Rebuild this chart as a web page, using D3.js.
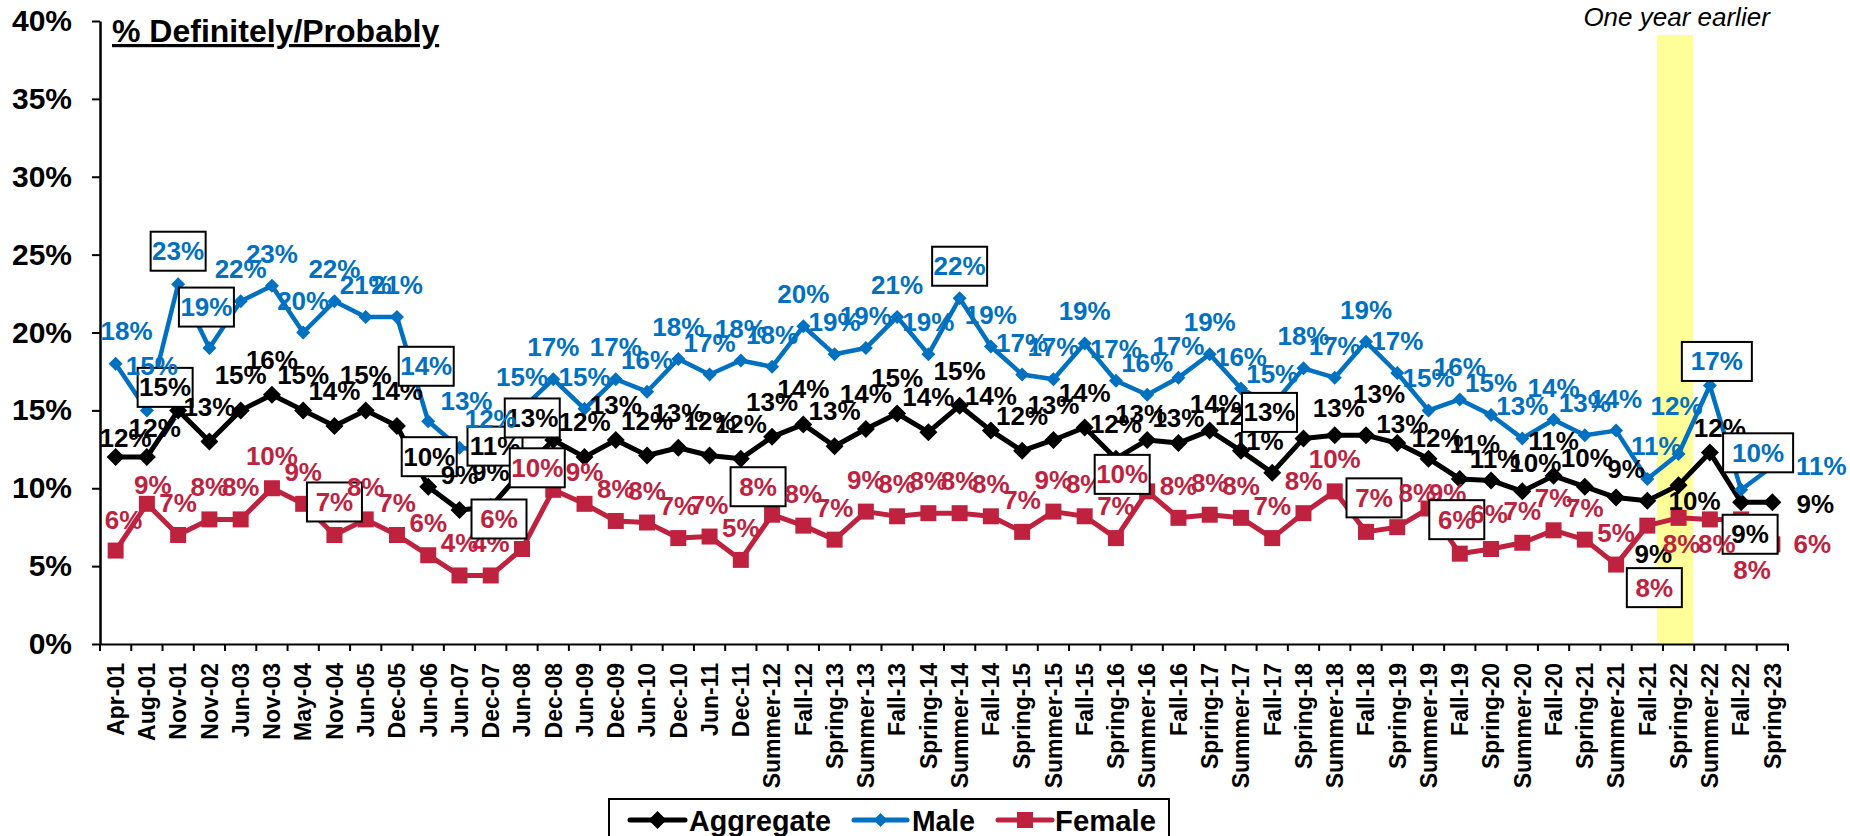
<!DOCTYPE html>
<html>
<head>
<meta charset="utf-8">
<script src="https://cdn.jsdelivr.net/npm/d3@7"></script>
<style>
  html, body { margin: 0; padding: 0; background: #fff; }
  svg { display: block; }
  text { font-family: "Liberation Sans", Arial, Helvetica, sans-serif; }
</style>
</head>
<body>
<svg id="chart" width="1850" height="836"></svg>
<script>
// ---------------- DATA ----------------
const categories = ["Apr-01","Aug-01","Nov-01","Nov-02","Jun-03","Nov-03","May-04","Nov-04","Jun-05","Dec-05",
  "Jun-06","Jun-07","Dec-07","Jun-08","Dec-08","Jun-09","Dec-09","Jun-10","Dec-10","Jun-11",
  "Dec-11","Summer-12","Fall-12","Spring-13","Summer-13","Fall-13","Spring-14","Summer-14","Fall-14","Spring-15",
  "Summer-15","Fall-15","Spring-16","Summer-16","Fall-16","Spring-17","Summer-17","Fall-17","Spring-18","Summer-18",
  "Fall-18","Spring-19","Summer-19","Fall-19","Spring-20","Summer-20","Fall-20","Spring-21","Summer-21","Fall-21",
  "Spring-22","Summer-22","Fall-22","Spring-23"];

const aggregate = [12.0, 12.0, 15.0, 13.0, 15.0, 16.0, 15.0, 14.0, 15.0, 14.0,
  10.1, 8.6, 8.8, 11.1, 13.1, 12.0, 13.1, 12.1, 12.6, 12.1,
  11.9, 13.3, 14.1, 12.7, 13.8, 14.8, 13.6, 15.3, 13.7, 12.4,
  13.1, 13.9, 11.9, 13.1, 12.9, 13.7, 12.4, 11.0, 13.2, 13.4,
  13.4, 12.9, 11.9, 10.6, 10.5, 9.8, 10.8, 10.1, 9.4, 9.2,
  10.2, 12.3, 9.1, 9.1];

const male = [18.0, 15.0, 23.1, 19.0, 22.0, 23.0, 20.0, 22.0, 21.0, 21.0,
  14.3, 12.6, 12.4, 15.1, 17.0, 15.1, 17.0, 16.2, 18.3, 17.3,
  18.2, 17.8, 20.4, 18.6, 19.0, 21.0, 18.6, 22.2, 19.1, 17.3,
  17.0, 19.3, 16.9, 16.0, 17.1, 18.6, 16.4, 15.3, 17.7, 17.1,
  19.4, 17.4, 15.0, 15.7, 14.7, 13.2, 14.4, 13.4, 13.7, 10.6,
  12.2, 16.6, 9.9, 11.4];

const female = [6.0, 9.0, 7.0, 8.0, 8.0, 10.0, 9.0, 7.0, 8.0, 7.0,
  5.7, 4.4, 4.4, 6.1, 9.9, 9.0, 7.9, 7.8, 6.8, 6.9,
  5.4, 8.3, 7.6, 6.7, 8.5, 8.2, 8.4, 8.4, 8.2, 7.2,
  8.5, 8.2, 6.8, 9.8, 8.1, 8.3, 8.1, 6.8, 8.4, 9.8,
  7.2, 7.5, 8.7, 5.8, 6.1, 6.5, 7.3, 6.7, 5.1, 7.6,
  8.1, 8.0, 8.0, 6.4];

const seriesNames = ["Aggregate", "Male", "Female"];
const yTicks = [0, 5, 10, 15, 20, 25, 30, 35, 40];
const titleText = "% Definitely/Probably";
const highlightCategory = "Spring-22";
const highlightText = "One year earlier";

// ---------------- STYLE / LAYOUT ----------------
const colors = { Aggregate: "#000000", Male: "#0070C0", Female: "#BE223E" };
const lineW = { Aggregate: 5, Male: 4.5, Female: 5 };
const defaultLabelDy = { Aggregate: -26, Male: -23, Female: -23 };

// label placement tweaks (offsets from the point, box = framed label)
const labelTweaks = {
  "Aggregate-0": {dx: 10, dy: -10},
  "Aggregate-1": {dx: 8, dy: -20},
  "Aggregate-2": {dx: -13, dy: -14, box: true},
  "Aggregate-10": {dx: 1, dy: -21, box: true},
  "Aggregate-13": {dx: -27, dy: -16, box: true},
  "Aggregate-14": {dx: -21, dy: -13, box: true},
  "Aggregate-33": {dx: -6, dy: -17},
  "Aggregate-34": {dx: 0, dy: -16},
  "Aggregate-35": {dx: 6, dy: -18},
  "Aggregate-37": {dx: -14, dy: -23},
  "Aggregate-38": {dx: -34, dy: -17, box: true},
  "Aggregate-39": {dx: 4, dy: -18},
  "Aggregate-40": {dx: 13, dy: -32},
  "Aggregate-41": {dx: 5, dy: -10},
  "Aggregate-42": {dx: 9, dy: -12},
  "Aggregate-43": {dx: 15, dy: -26},
  "Aggregate-44": {dx: 4, dy: -12},
  "Aggregate-45": {dx: 13, dy: -19},
  "Aggregate-47": {dx: 2, dy: -20},
  "Aggregate-48": {dx: 10, dy: -20},
  "Aggregate-49": {dx: 6, dy: 62},
  "Aggregate-50": {dx: 16, dy: 25},
  "Aggregate-51": {dx: 10, dy: -15},
  "Aggregate-52": {dx: 9, dy: 41, box: true},
  "Aggregate-53": {dx: 43, dy: 11},
  "Male-0": {dx: 11, dy: -24},
  "Male-1": {dx: 5, dy: -35},
  "Male-2": {dx: 0, dy: -24, box: true},
  "Male-3": {dx: -3, dy: -32, box: true},
  "Male-10": {dx: -2, dy: -46, box: true},
  "Male-11": {dx: 7, dy: -38},
  "Male-27": {dx: 0, dy: -23, box: true},
  "Male-49": {dx: 9, dy: -24},
  "Male-50": {dx: -2, dy: -39},
  "Male-51": {dx: 7, dy: -15, box: true, w: 70},
  "Male-52": {dx: 17, dy: -28, box: true, w: 70},
  "Male-53": {dx: 49, dy: 9},
  "Female-0": {dx: 8, dy: -22},
  "Female-1": {dx: 6, dy: -10},
  "Female-7": {dx: 0, dy: -24, box: true},
  "Female-13": {dx: -23, dy: -21, box: true},
  "Female-14": {dx: -16, dy: -13, box: true},
  "Female-21": {dx: -14, dy: -19, box: true},
  "Female-33": {dx: -25, dy: -8, box: true},
  "Female-40": {dx: 8, dy: -25, box: true},
  "Female-41": {dx: 20, dy: -25},
  "Female-42": {dx: 19, dy: -6},
  "Female-43": {dx: -3, dy: -25, box: true},
  "Female-44": {dx: -2, dy: -26},
  "Female-49": {dx: 7, dy: 71, box: true},
  "Female-50": {dx: 3, dy: 35},
  "Female-51": {dx: 7, dy: 34},
  "Female-52": {dx: 11, dy: 60},
  "Female-53": {dx: 40, dy: 9}
};

const svg = d3.select("#chart");
const plotLeft = 100, plotRight = 1788, plotTop = 21, plotBottom = 644;

const x = d3.scaleBand().domain(categories).range([plotLeft, plotRight]).padding(0);
const y = d3.scaleLinear().domain([0, 40]).range([plotBottom, plotTop]);
const cx = c => x(c) + x.bandwidth() / 2;

// highlight band
svg.append("rect")
  .attr("x", x(highlightCategory) - 6)
  .attr("y", 35)
  .attr("width", x.bandwidth() + 5)
  .attr("height", plotBottom - 35)
  .attr("fill", "#FFFF99");

svg.append("text")
  .attr("x", cx(highlightCategory) - 2)
  .attr("y", 26)
  .attr("text-anchor", "middle")
  .attr("font-size", 26)
  .attr("font-style", "italic")
  .attr("fill", "#000")
  .text(highlightText);

// Y axis
const yAxis = d3.axisLeft(y).tickValues(yTicks).tickFormat(d => d + "%").tickSize(8).tickSizeOuter(0).tickPadding(20);
const gy = svg.append("g").attr("transform", `translate(${plotLeft},0)`).call(yAxis);
gy.select(".domain").attr("stroke", "#000").attr("stroke-width", 2.5);
gy.selectAll(".tick line").attr("stroke", "#000").attr("stroke-width", 2);
gy.selectAll(".tick text").attr("font-size", 30).attr("font-weight", "bold").attr("fill", "#000")
  .attr("font-family", "'Liberation Sans', Arial, sans-serif");

// X axis: labels at centers, ticks at boundaries
const xAxis = d3.axisBottom(x).tickSize(0).tickSizeOuter(0);
const gx = svg.append("g").attr("transform", `translate(0,${plotBottom})`).call(xAxis);
gx.select(".domain").attr("stroke", "#000").attr("stroke-width", 2);
gx.selectAll(".tick text")
  .attr("font-size", 23).attr("font-weight", "bold").attr("fill", "#000")
  .attr("font-family", "'Liberation Sans', Arial, sans-serif")
  .attr("text-anchor", "end")
  .attr("transform", "rotate(-90)")
  .attr("x", -19).attr("y", 0).attr("dy", "0.36em");
const boundaries = categories.map(c => x(c)).concat([x(categories[categories.length - 1]) + x.bandwidth()]);
gx.selectAll("line.bound").data(boundaries).enter().append("line")
  .attr("class", "bound")
  .attr("x1", d => d).attr("x2", d => d)
  .attr("y1", 0).attr("y2", 7)
  .attr("stroke", "#000").attr("stroke-width", 2);

// title
svg.append("text")
  .attr("x", 112).attr("y", 42)
  .attr("font-size", 32).attr("font-weight", "bold")
  .attr("text-decoration", "underline")
  .attr("fill", "#000")
  .text(titleText);

// series
const seriesData = {
  Aggregate: aggregate,
  Male: male,
  Female: female
};

function markerPath(type, size) {
  if (type === "square") {
    return `M${-size},${-size}H${size}V${size}H${-size}Z`;
  }
  return `M0,${-size}L${size},0L0,${size}L${-size},0Z`;
}
const markerType = { Aggregate: "diamond", Male: "diamond", Female: "square" };
const markerSize = { Aggregate: 9, Male: 7, Female: 8 };

const line = d3.line().x((d, i) => cx(categories[i])).y(d => y(d));

seriesNames.forEach(name => {
  const vals = seriesData[name];
  const g = svg.append("g");
  g.append("path")
    .datum(vals)
    .attr("d", line)
    .attr("fill", "none")
    .attr("stroke", colors[name])
    .attr("stroke-width", lineW[name])
    .attr("stroke-linejoin", "round");
  g.selectAll("path.m").data(vals).enter().append("path")
    .attr("class", "m")
    .attr("d", markerPath(markerType[name], markerSize[name]))
    .attr("transform", (d, i) => `translate(${cx(categories[i])},${y(d)})`)
    .attr("fill", colors[name]);
});

// labels
seriesNames.forEach(name => {
  const vals = seriesData[name];
  const g = svg.append("g");
  vals.forEach((v, i) => {
    const t = labelTweaks[name + "-" + i] || {};
    const px = cx(categories[i]) + (t.dx !== undefined ? t.dx : 0);
    const py = y(v) + (t.dy !== undefined ? t.dy : defaultLabelDy[name]);
    if (t.box) {
      const w = t.w || 55, h = 39;
      g.append("rect")
        .attr("x", px - w / 2).attr("y", py - 9 - h / 2)
        .attr("width", w).attr("height", h)
        .attr("fill", "#fff").attr("stroke", "#000").attr("stroke-width", 2);
    }
    g.append("text")
      .attr("x", px).attr("y", py)
      .attr("text-anchor", "middle")
      .attr("font-size", 26).attr("font-weight", "bold")
      .attr("fill", colors[name])
      .text(Math.round(v) + "%");
  });
});

// legend
const lg = svg.append("g");
lg.append("rect").attr("x", 609).attr("y", 799).attr("width", 560).attr("height", 50)
  .attr("fill", "#fff").attr("stroke", "#000").attr("stroke-width", 2);
const legendItems = [
  { name: "Aggregate", x0: 630, x1: 685, tx: 689, tw: 142 },
  { name: "Male", x0: 854, x1: 907, tx: 912, tw: 63 },
  { name: "Female", x0: 998, x1: 1052, tx: 1055, tw: 101 }
];
legendItems.forEach(it => {
  lg.append("line").attr("x1", it.x0).attr("x2", it.x1).attr("y1", 820).attr("y2", 820)
    .attr("stroke", colors[it.name]).attr("stroke-width", 5).attr("stroke-linecap", "round");
  lg.append("path").attr("d", markerPath(markerType[it.name], markerSize[it.name]))
    .attr("transform", `translate(${(it.x0 + it.x1) / 2},820)`)
    .attr("fill", colors[it.name]);
  lg.append("text").attr("x", it.tx).attr("y", 831)
    .attr("font-size", 30).attr("font-weight", "bold").attr("fill", "#000")
    .attr("textLength", it.tw).attr("lengthAdjust", "spacingAndGlyphs")
    .text(it.name);
});
</script>
</body>
</html>
